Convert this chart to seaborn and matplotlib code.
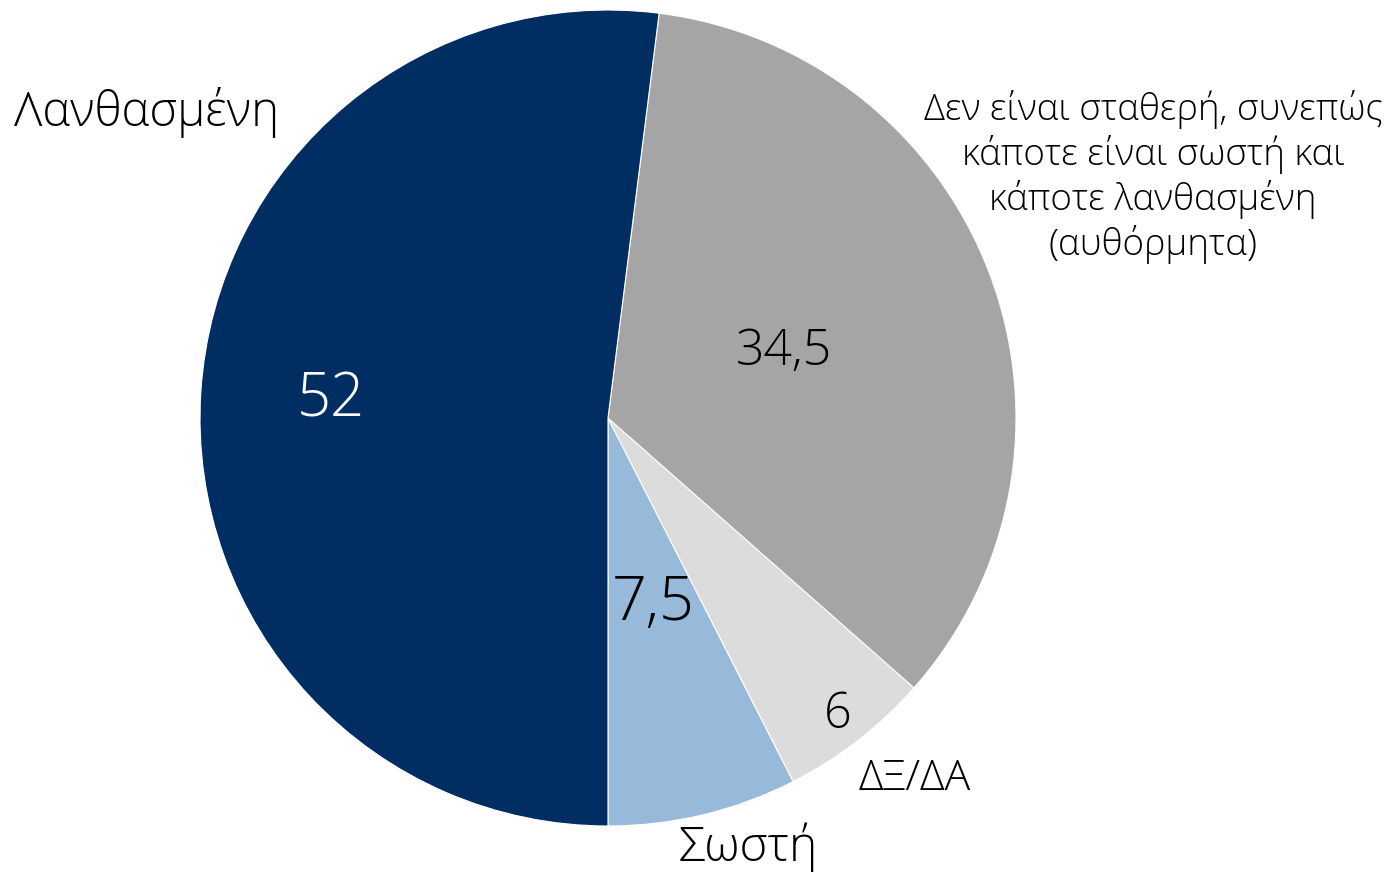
import numpy as np
import matplotlib
matplotlib.use("Agg")
import matplotlib.pyplot as plt
import seaborn as sns

# Data (clockwise order around the pie starts at the bottom, counterclockwise in matplotlib terms)
categories = ["Σωστή", "ΔΞ/ΔΑ",
              "Δεν είναι σταθερή, συνεπώς\nκάποτε είναι σωστή και\nκάποτε λανθασμένη\n(αυθόρμητα)",
              "Λανθασμένη"]
values = [7.5, 6, 34.5, 52]
value_labels = ["7,5", "6", "34,5", "52"]
colors = ["#97badb", "#dcdcdc", "#a5a5a5", "#002d62"]

sns.set_theme(style="white")
plt.rcParams["font.family"] = ["Open Sans", "DejaVu Sans"]

fig = plt.figure(figsize=(13.92, 8.72), dpi=100)
W, H = 1392, 872
cx, cy, R = 608, 418, 408
ax = fig.add_axes([(cx - R) / W, (H - cy - R) / H, 2 * R / W, 2 * R / H])

wedges, _ = ax.pie(values, colors=colors, startangle=-90, counterclock=True,
                   radius=1, wedgeprops=dict(edgecolor="white", linewidth=0.8))
ax.set_xlim(-1, 1)
ax.set_ylim(-1, 1)
ax.set_aspect("equal")

# value labels inside the slices
val_radius = [0.47, 0.92, 0.46, 0.68]
val_size = [44, 35, 36, 43]
val_color = ["black", "black", "black", "white"]
for w, lab, r, fs, c in zip(wedges, value_labels, val_radius, val_size, val_color):
    th = np.deg2rad((w.theta1 + w.theta2) / 2)
    ax.text(r * np.cos(th), r * np.sin(th), lab, ha="center", va="center",
            fontsize=fs, color=c, fontweight="light")

# category labels outside
cat_pos = [(0.343, -1.054), (0.752, -0.885), (1.336, 0.591), (-1.130, 0.748)]
cat_size = [34.5, 31, 26.5, 34]
for lab, (x, y), fs in zip(categories, cat_pos, cat_size):
    ax.text(x, y, lab, ha="center", va="center", fontsize=fs, color="black",
            fontweight="light", linespacing=1.2)

fig.savefig("out.png", dpi=100)
